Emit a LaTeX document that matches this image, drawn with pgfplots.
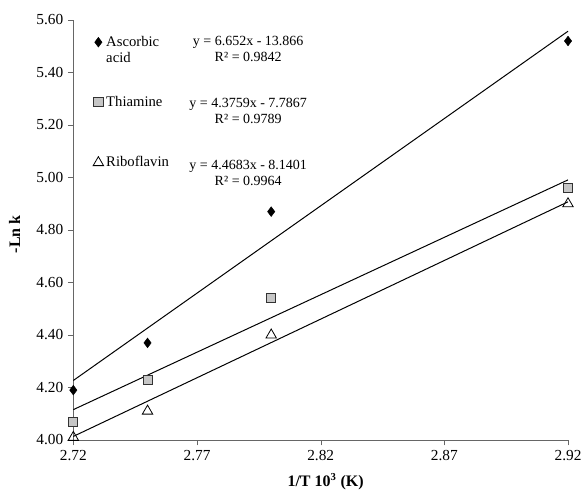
\documentclass[border=0pt]{standalone}
\usepackage{fontspec}
\setmainfont{Liberation Serif}
\usepackage{pgfplots}
\pgfplotsset{compat=1.18}

\begin{document}
\begin{tikzpicture}
\useasboundingbox (-55pt,-39pt) rectangle (383pt,330pt);
\begin{axis}[
    at={(0pt,0pt)}, anchor=south west,
    scale only axis, width=371pt, height=315pt,
    xmin=2.72, xmax=2.92, ymin=4, ymax=5.6,
    clip=false,
    axis x line*=bottom, axis y line*=left,
    axis line style={draw=black!60, -},
    tick align=outside, major tick length=4pt,
    tick style={black!60},
    xtick={2.72,2.77,2.82,2.87,2.92},
    ytick={4,4.2,4.4,4.6,4.8,5,5.2,5.4,5.6},
    /pgf/number format/assume math mode=true,
    /pgf/number format/.cd, fixed, fixed zerofill, precision=2, /pgfplots/.cd,
    tick label style={font=\fontsize{11.5}{13}\selectfont},
    xlabel={\textbf{1/T 10\textsuperscript{3} (K)}},
    ylabel={\textbf{-Ln k}},
    label style={font=\fontsize{12}{13}\selectfont},
    xlabel style={at={(rel axis cs:0.51,-0.1)}, anchor=center},
    ylabel style={at={(rel axis cs:-0.1186,0.49)}, anchor=center},
    legend style={draw=none, fill=none, at={(axis cs:2.7263,5.56)}, anchor=north west,
        row sep=32pt, font=\fontsize{11}{12}\selectfont},
    legend cell align=left,
    legend image code/.code={\draw[mark repeat=2,mark phase=2] plot coordinates {(0cm,0cm)(0.15cm,0cm)(0.3cm,0cm)};},
]
% Ascorbic acid
\addplot[only marks, mark=diamond*, mark size=3.6pt, draw=black, fill=black]
    coordinates {(2.72,4.19) (2.75,4.37) (2.80,4.87) (2.92,5.52)};
\addlegendentry{\parbox[t]{60pt}{Ascorbic\\acid}}
% Thiamine
\addplot[only marks, mark=square*, mark size=3.4pt, draw=black!80, fill=gray!45, line width=0.6pt]
    coordinates {(2.72,4.07) (2.75,4.23) (2.80,4.54) (2.92,4.96)};
\addlegendentry{\parbox[t]{60pt}{Thiamine\\\mbox{}}}
% Riboflavin
\addplot[only marks, mark=triangle, mark size=4.5pt, draw=black, line width=0.6pt]
    coordinates {(2.72,4.01) (2.75,4.11) (2.80,4.40) (2.92,4.90)};
\addlegendentry{\parbox[t]{60pt}{Riboflavin\\\mbox{}}}

% trend lines
\addplot[black, line width=0.75pt, forget plot] coordinates {(2.72,4.2268) (2.92,5.5572)};
\addplot[black, line width=0.75pt, forget plot] coordinates {(2.72,4.1157) (2.92,4.9909)};
\addplot[black, line width=0.75pt, forget plot] coordinates {(2.72,4.0137) (2.92,4.9073)};

\node[align=center, font=\fontsize{10.5}{12}\selectfont] at (axis cs:2.7907,5.488) {y = 6.652x - 13.866\\R² = 0.9842};
\node[align=center, font=\fontsize{10.5}{12}\selectfont] at (axis cs:2.7907,5.253) {y = 4.3759x - 7.7867\\R² = 0.9789};
\node[align=center, font=\fontsize{10.5}{12}\selectfont] at (axis cs:2.7907,5.017) {y = 4.4683x - 8.1401\\R² = 0.9964};
\end{axis}
\end{tikzpicture}
\end{document}
